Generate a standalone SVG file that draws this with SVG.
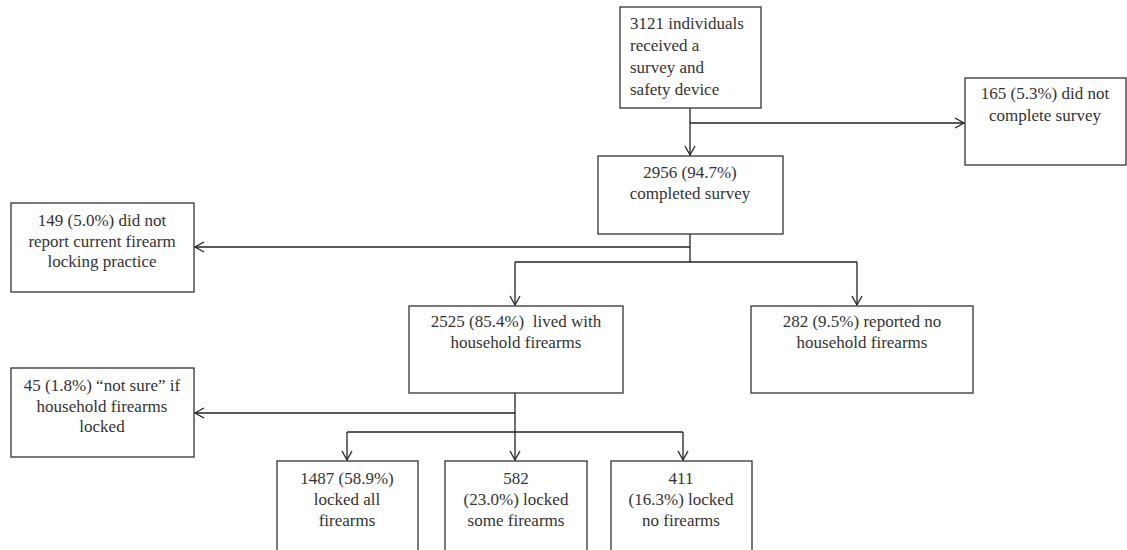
<svg xmlns="http://www.w3.org/2000/svg" width="1127" height="550" viewBox="0 0 1127 550" font-family="Liberation Serif, DejaVu Serif, Times New Roman, serif">
<defs>
<marker id="arr" markerWidth="12" markerHeight="12" refX="10" refY="6" orient="auto" markerUnits="userSpaceOnUse">
<polyline points="1,1 10,6 1,11" fill="none" stroke="#222" stroke-width="1.3"/>
</marker>
</defs>
<style>
rect{fill:#fff;stroke:#333;stroke-width:1.3}
text{font-size:17px;fill:#333;white-space:pre}
.c{text-anchor:middle}
#connectors path{fill:none;stroke:#222;stroke-width:1.3}
</style>
<rect x="0" y="0" width="1127" height="550" style="fill:#fff;stroke:none"/>
<g id="connectors">
<path d="M690 108 V155" marker-end="url(#arr)"/>
<path d="M690 123 H964" marker-end="url(#arr)"/>
<path d="M690 234 V262"/>
<path d="M690 247 H195" marker-end="url(#arr)"/>
<path d="M515 262 H857"/>
<path d="M515 262 V305" marker-end="url(#arr)"/>
<path d="M857 262 V305" marker-end="url(#arr)"/>
<path d="M515 393 V460" marker-end="url(#arr)"/>
<path d="M515 413 H195" marker-end="url(#arr)"/>
<path d="M347 432 H683"/>
<path d="M347 432 V460" marker-end="url(#arr)"/>
<path d="M683 432 V460" marker-end="url(#arr)"/>
</g>
<g id="n1"><rect x="620" y="7" width="141" height="101"/>
<text x="630" y="29">3121 individuals</text><text x="630" y="51">received a</text><text x="630" y="73">survey and</text><text x="630" y="95">safety device</text></g>
<g id="n2"><rect x="965" y="78" width="161" height="87"/>
<text class="c" x="1045" y="99">165 (5.3%) did not</text><text class="c" x="1045" y="121">complete survey</text></g>
<g id="n3"><rect x="598" y="156" width="185" height="78"/>
<text class="c" x="690" y="178">2956 (94.7%)</text><text class="c" x="690" y="199">completed survey</text></g>
<g id="n4"><rect x="11" y="203" width="183" height="89"/>
<text class="c" x="102" y="226">149 (5.0%) did not</text><text class="c" x="102" y="247">report current firearm</text><text class="c" x="102" y="267">locking practice</text></g>
<g id="n5"><rect x="409" y="306" width="214" height="87"/>
<text class="c" x="516" y="327">2525 (85.4%)  lived with</text><text class="c" x="516" y="348">household firearms</text></g>
<g id="n6"><rect x="751" y="306" width="222" height="87"/>
<text class="c" x="862" y="327">282 (9.5%) reported no</text><text class="c" x="862" y="348">household firearms</text></g>
<g id="n7"><rect x="11" y="368" width="183" height="89"/>
<text class="c" x="102" y="391">45 (1.8%) “not sure” if</text><text class="c" x="102" y="412">household firearms</text><text class="c" x="102" y="432">locked</text></g>
<g id="n8"><rect x="277" y="461" width="141" height="100"/>
<text class="c" x="347" y="484">1487 (58.9%)</text><text class="c" x="347" y="505">locked all</text><text class="c" x="347" y="526">firearms</text></g>
<g id="n9"><rect x="445" y="461" width="142" height="100"/>
<text class="c" x="516" y="484">582</text><text class="c" x="516" y="505">(23.0%) locked</text><text class="c" x="516" y="526">some firearms</text></g>
<g id="n10"><rect x="611" y="461" width="141" height="100"/>
<text class="c" x="681" y="484">411</text><text class="c" x="681" y="505">(16.3%) locked</text><text class="c" x="681" y="526">no firearms</text></g>
</svg>
